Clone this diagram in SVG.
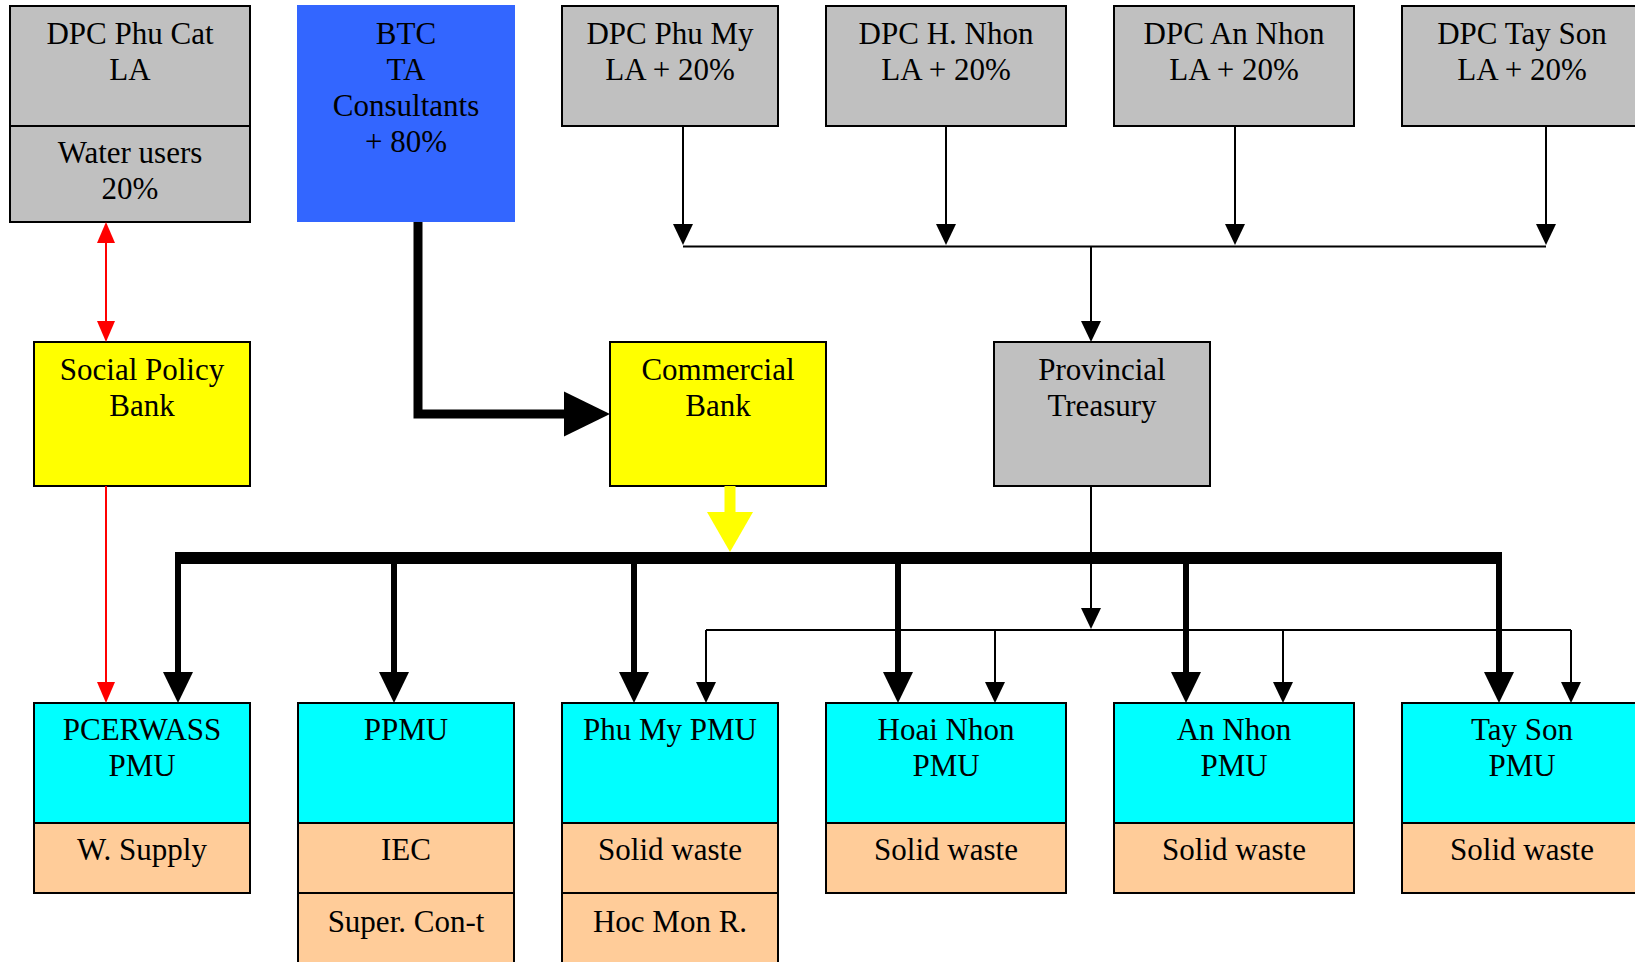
<svg xmlns="http://www.w3.org/2000/svg" width="1635" height="962" viewBox="0 0 1635 962">
<style>
.box{stroke:#000;stroke-width:2}
.gray{fill:#C0C0C0}
.yel{fill:#FFFF00}
.cyan{fill:#00FFFF}
.peach{fill:#FFCC99}
text{font-family:"Liberation Serif","Times New Roman",serif;font-size:31px;fill:#000;text-anchor:middle}
.thin{stroke:#000;stroke-width:2;fill:none}
.thick{stroke:#000;stroke-width:6;fill:none}
.bus{stroke:#000;stroke-width:12;fill:none}
.red{stroke:#FF0000;stroke-width:2;fill:none}
</style>
<defs>
<marker id="mThin" markerUnits="userSpaceOnUse" markerWidth="22" markerHeight="22" refX="0" refY="10" orient="auto" overflow="visible"><path d="M0,0 L21,10 L0,20 Z" fill="#000"/></marker>
<marker id="mThick" markerUnits="userSpaceOnUse" markerWidth="32" markerHeight="32" refX="0" refY="15" orient="auto" overflow="visible"><path d="M0,0 L31,15 L0,30 Z" fill="#000"/></marker>
<marker id="mBig" markerUnits="userSpaceOnUse" markerWidth="48" markerHeight="48" refX="0" refY="22.5" orient="auto" overflow="visible"><path d="M0,0 L46,22.5 L0,45 Z" fill="#000"/></marker>
<marker id="mYel" markerUnits="userSpaceOnUse" markerWidth="48" markerHeight="48" refX="0" refY="23" orient="auto" overflow="visible"><path d="M0,0 L40,23 L0,46 Z" fill="#FFFF00"/></marker>
<marker id="mRed" markerUnits="userSpaceOnUse" markerWidth="22" markerHeight="22" refX="0" refY="9" orient="auto-start-reverse" overflow="visible"><path d="M0,0 L21,9 L0,18 Z" fill="#FF0000"/></marker>
</defs>

<g id="dpc-phu-cat">
<rect class="box gray" x="10" y="6" width="240" height="120"/>
<rect class="box gray" x="10" y="126" width="240" height="96"/>
<text x="130" y="44">DPC Phu Cat</text>
<text x="130" y="80">LA</text>
<text x="130" y="163">Water users</text>
<text x="130" y="199">20%</text>
</g>
<g id="btc">
<rect x="297" y="5" width="218" height="217" fill="#3366FF"/>
<text x="406" y="44">BTC</text>
<text x="406" y="80">TA</text>
<text x="406" y="116">Consultants</text>
<text x="406" y="152">+ 80%</text>
</g>
<g id="dpc-phu-my">
<rect class="box gray" x="562" y="6" width="216" height="120"/>
<text x="670" y="44">DPC Phu My</text>
<text x="670" y="80">LA + 20%</text>
</g>
<g id="dpc-h-nhon">
<rect class="box gray" x="826" y="6" width="240" height="120"/>
<text x="946" y="44">DPC H. Nhon</text>
<text x="946" y="80">LA + 20%</text>
</g>
<g id="dpc-an-nhon">
<rect class="box gray" x="1114" y="6" width="240" height="120"/>
<text x="1234" y="44">DPC An Nhon</text>
<text x="1234" y="80">LA + 20%</text>
</g>
<g id="dpc-tay-son">
<rect class="box gray" x="1402" y="6" width="240" height="120"/>
<text x="1522" y="44">DPC Tay Son</text>
<text x="1522" y="80">LA + 20%</text>
</g>

<g id="social-policy-bank">
<rect class="box yel" x="34" y="342" width="216" height="144"/>
<text x="142" y="380">Social Policy</text>
<text x="142" y="416">Bank</text>
</g>
<g id="commercial-bank">
<rect class="box yel" x="610" y="342" width="216" height="144"/>
<text x="718" y="380">Commercial</text>
<text x="718" y="416">Bank</text>
</g>
<g id="provincial-treasury">
<rect class="box gray" x="994" y="342" width="216" height="144"/>
<text x="1102" y="380">Provincial</text>
<text x="1102" y="416">Treasury</text>
</g>

<g id="pcerwass-pmu">
<rect class="box cyan" x="34" y="703" width="216" height="120"/>
<rect class="box peach" x="34" y="823" width="216" height="70"/>
<text x="142" y="740">PCERWASS</text>
<text x="142" y="776">PMU</text>
<text x="142" y="860">W. Supply</text>
</g>
<g id="ppmu">
<rect class="box cyan" x="298" y="703" width="216" height="120"/>
<rect class="box peach" x="298" y="823" width="216" height="70"/>
<rect class="box peach" x="298" y="893" width="216" height="80"/>
<text x="406" y="740">PPMU</text>
<text x="406" y="860">IEC</text>
<text x="406" y="932">Super. Con-t</text>
</g>
<g id="phu-my-pmu">
<rect class="box cyan" x="562" y="703" width="216" height="120"/>
<rect class="box peach" x="562" y="823" width="216" height="70"/>
<rect class="box peach" x="562" y="893" width="216" height="80"/>
<text x="670" y="740">Phu My PMU</text>
<text x="670" y="860">Solid waste</text>
<text x="670" y="932">Hoc Mon R.</text>
</g>
<g id="hoai-nhon-pmu">
<rect class="box cyan" x="826" y="703" width="240" height="120"/>
<rect class="box peach" x="826" y="823" width="240" height="70"/>
<text x="946" y="740">Hoai Nhon</text>
<text x="946" y="776">PMU</text>
<text x="946" y="860">Solid waste</text>
</g>
<g id="an-nhon-pmu">
<rect class="box cyan" x="1114" y="703" width="240" height="120"/>
<rect class="box peach" x="1114" y="823" width="240" height="70"/>
<text x="1234" y="740">An Nhon</text>
<text x="1234" y="776">PMU</text>
<text x="1234" y="860">Solid waste</text>
</g>
<g id="tay-son-pmu">
<rect class="box cyan" x="1402" y="703" width="240" height="120"/>
<rect class="box peach" x="1402" y="823" width="240" height="70"/>
<text x="1522" y="740">Tay Son</text>
<text x="1522" y="776">PMU</text>
<text x="1522" y="860">Solid waste</text>
</g>

<g id="connectors">
<line class="thin" x1="683" y1="126" x2="683" y2="224" marker-end="url(#mThin)"/>
<line class="thin" x1="946" y1="126" x2="946" y2="224" marker-end="url(#mThin)"/>
<line class="thin" x1="1235" y1="126" x2="1235" y2="224" marker-end="url(#mThin)"/>
<line class="thin" x1="1546" y1="126" x2="1546" y2="224" marker-end="url(#mThin)"/>
<line class="thin" x1="683" y1="246.5" x2="1546" y2="246.5"/>
<line class="thin" x1="1091" y1="246.5" x2="1091" y2="321" marker-end="url(#mThin)"/>
<line class="thin" x1="1091" y1="486" x2="1091" y2="608" marker-end="url(#mThin)"/>
<line class="thin" x1="706" y1="630" x2="1571" y2="630"/>
<line class="thin" x1="706" y1="630" x2="706" y2="682" marker-end="url(#mThin)"/>
<line class="thin" x1="995" y1="630" x2="995" y2="682" marker-end="url(#mThin)"/>
<line class="thin" x1="1283" y1="630" x2="1283" y2="682" marker-end="url(#mThin)"/>
<line class="thin" x1="1571" y1="630" x2="1571" y2="682" marker-end="url(#mThin)"/>
<path d="M418,222 V414 H564" stroke="#000" stroke-width="9" fill="none" marker-end="url(#mBig)"/>
<line x1="730" y1="486" x2="730" y2="512" stroke="#FFFF00" stroke-width="11" marker-end="url(#mYel)"/>
<line class="bus" x1="175" y1="558" x2="1502" y2="558"/>
<line class="thick" x1="178" y1="558" x2="178" y2="672" marker-end="url(#mThick)"/>
<line class="thick" x1="394" y1="558" x2="394" y2="672" marker-end="url(#mThick)"/>
<line class="thick" x1="634" y1="558" x2="634" y2="672" marker-end="url(#mThick)"/>
<line class="thick" x1="898" y1="558" x2="898" y2="672" marker-end="url(#mThick)"/>
<line class="thick" x1="1186" y1="558" x2="1186" y2="672" marker-end="url(#mThick)"/>
<line class="thick" x1="1499" y1="558" x2="1499" y2="672" marker-end="url(#mThick)"/>
<line class="red" x1="106" y1="243" x2="106" y2="321" marker-start="url(#mRed)" marker-end="url(#mRed)"/>
<line class="red" x1="106" y1="486" x2="106" y2="682" marker-end="url(#mRed)"/>
</g>
</svg>
